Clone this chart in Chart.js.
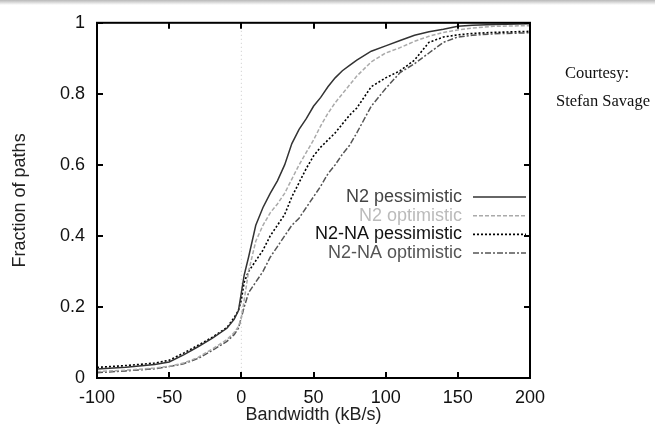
<!DOCTYPE html>
<html>
<head>
<meta charset="utf-8">
<script src="https://cdn.jsdelivr.net/npm/chart.js@4.4.1/dist/chart.umd.min.js"></script>
<style>
html, body { margin: 0; padding: 0; background: #fff; }
#wrap { position: relative; width: 655px; height: 429px; }
#topband { position: absolute; left: 0; top: 0; width: 655px; height: 5px; background: linear-gradient(#b8b8b8, #fff); }
</style>
</head>
<body>
<div id="wrap">
  <canvas id="cdfChart" width="655" height="429"></canvas>
  <div id="topband"></div>
</div>
<script>
// ===== DATA =====
const bandwidth = [-100, -80, -60, -50, -40, -30, -20, -10, -5, -2, 0, 2, 5, 10, 15, 20, 25, 30, 35, 40,
  45, 50, 55, 60, 65, 70, 75, 80, 90, 100, 110, 120, 130, 140, 150, 160, 175, 200];

const n2Pess = [0.025, 0.03, 0.038, 0.045, 0.065, 0.088, 0.112, 0.14, 0.165, 0.19, 0.24, 0.29, 0.34, 0.43, 0.48, 0.52, 0.555, 0.60, 0.66, 0.70,
  0.73, 0.765, 0.79, 0.82, 0.845, 0.865, 0.88, 0.895, 0.92, 0.935, 0.95, 0.965, 0.975, 0.982, 0.99, 0.993, 0.995, 0.997];

const n2Opt = [0.018, 0.022, 0.028, 0.033, 0.042, 0.058, 0.082, 0.108, 0.128, 0.145, 0.17, 0.22, 0.30, 0.385, 0.43, 0.465, 0.49, 0.52, 0.56, 0.60,
  0.635, 0.67, 0.71, 0.745, 0.775, 0.80, 0.825, 0.85, 0.89, 0.915, 0.93, 0.948, 0.962, 0.973, 0.98, 0.985, 0.99, 0.992];

const n2naPess = [0.03, 0.035, 0.042, 0.05, 0.07, 0.092, 0.115, 0.142, 0.17, 0.19, 0.22, 0.27, 0.30, 0.33, 0.36, 0.40, 0.43, 0.46, 0.51, 0.55,
  0.59, 0.625, 0.65, 0.67, 0.69, 0.715, 0.74, 0.76, 0.82, 0.845, 0.865, 0.895, 0.945, 0.96, 0.966, 0.97, 0.973, 0.976];

const n2naOpt = [0.015, 0.02, 0.026, 0.032, 0.04, 0.055, 0.078, 0.103, 0.122, 0.14, 0.17, 0.20, 0.24, 0.27, 0.30, 0.34, 0.37, 0.40, 0.43, 0.45,
  0.48, 0.51, 0.54, 0.575, 0.60, 0.63, 0.655, 0.69, 0.765, 0.815, 0.86, 0.885, 0.915, 0.945, 0.96, 0.965, 0.969, 0.972];

const seriesNames = ['N2 pessimistic', 'N2 optimistic', 'N2-NA pessimistic', 'N2-NA optimistic'];
const xTicks = [-100, -50, 0, 50, 100, 150, 200];
const yTicks = [0, 0.2, 0.4, 0.6, 0.8, 1];
const courtesy = ['Courtesy:', 'Stefan Savage'];

const FONT = "'Liberation Sans', Arial, sans-serif";

function toPoints(ys) {
  return bandwidth.map((x, i) => ({ x: x, y: ys[i] }));
}

// legend text colours, same order as series
const legendText = ['#444', '#bbb', '#111', '#555'];

// ===== PLUGIN: frame, inward ticks, zero line, legend, note =====
const gnuFrame = {
  id: 'gnuFrame',
  beforeDatasetsDraw(chart) {
    const { ctx, chartArea: a, scales: { x } } = chart;
    const x0 = x.getPixelForValue(0);
    ctx.save();
    ctx.strokeStyle = '#c8c8c8';
    ctx.lineWidth = 1;
    ctx.setLineDash([1, 3]);
    ctx.beginPath();
    ctx.moveTo(x0, a.top);
    ctx.lineTo(x0, a.bottom);
    ctx.stroke();
    ctx.restore();
  },
  afterDatasetsDraw(chart) {
    const { ctx, chartArea: a, scales: { x, y } } = chart;
    ctx.save();
    ctx.strokeStyle = '#000';
    ctx.lineWidth = 2;
    ctx.strokeRect(a.left, a.top, a.right - a.left, a.bottom - a.top);

    ctx.beginPath();
    xTicks.forEach(v => {
      const px = Math.round(x.getPixelForValue(v));
      ctx.moveTo(px, a.bottom); ctx.lineTo(px, a.bottom - 6);
      ctx.moveTo(px, a.top); ctx.lineTo(px, a.top + 6);
    });
    yTicks.forEach(v => {
      const py = Math.round(y.getPixelForValue(v));
      ctx.moveTo(a.left, py); ctx.lineTo(a.left + 6, py);
      ctx.moveTo(a.right, py); ctx.lineTo(a.right - 6, py);
    });
    ctx.stroke();

    // legend inside plot
    ctx.font = '18px ' + FONT;
    ctx.textAlign = 'right';
    ctx.textBaseline = 'middle';
    chart.data.datasets.forEach((ds, i) => {
      const ly = 197 + i * 18.7;
      ctx.fillStyle = legendText[i];
      ctx.fillText(ds.label, 462, ly);
      ctx.strokeStyle = ds.borderColor;
      ctx.lineWidth = ds.borderWidth;
      ctx.setLineDash(ds.borderDash || []);
      ctx.beginPath();
      ctx.moveTo(473, ly);
      ctx.lineTo(526, ly);
      ctx.stroke();
    });
    ctx.setLineDash([]);

    // courtesy note
    ctx.fillStyle = '#111';
    ctx.font = "16.5px 'Liberation Serif', 'DejaVu Serif', serif";
    ctx.textAlign = 'center';
    ctx.fillText(courtesy[0], 597, 74);
    ctx.fillText(courtesy[1], 603, 102);
    ctx.restore();
  }
};

// ===== CHART =====
const ctx = document.getElementById('cdfChart');

new Chart(ctx, {
  type: 'line',
  data: {
    datasets: [
      {
        label: seriesNames[0],
        data: toPoints(n2Pess),
        borderColor: '#333',
        borderWidth: 1.5
      },
      {
        label: seriesNames[1],
        data: toPoints(n2Opt),
        borderColor: '#aaa',
        borderWidth: 1.5,
        borderDash: [4, 2]
      },
      {
        label: seriesNames[2],
        data: toPoints(n2naPess),
        borderColor: '#000',
        borderWidth: 1.6,
        borderDash: [2, 2]
      },
      {
        label: seriesNames[3],
        data: toPoints(n2naOpt),
        borderColor: '#555',
        borderWidth: 1.5,
        borderDash: [6, 2, 2, 2]
      }
    ]
  },
  options: {
    responsive: false,
    animation: false,
    elements: {
      point: { radius: 0 },
      line: { tension: 0, fill: false }
    },
    layout: {
      padding: { top: 14, right: 125, left: 0, bottom: 0 }
    },
    plugins: {
      legend: { display: false },
      tooltip: { enabled: false }
    },
    scales: {
      x: {
        type: 'linear',
        min: -100,
        max: 200,
        afterBuildTicks: s => { s.ticks = xTicks.map(v => ({ value: v })); },
        afterFit: s => { s.height = 51; },
        grid: { display: false, drawTicks: false },
        border: { display: false },
        ticks: {
          color: '#111',
          font: { size: 18, family: FONT },
          padding: 9,
          maxRotation: 0,
          callback: v => String(v)
        },
        title: {
          display: true,
          text: 'Bandwidth (kB/s)',
          color: '#222',
          font: { size: 18, family: FONT },
          padding: { top: 0, bottom: 3 }
        }
      },
      y: {
        min: 0,
        max: 1,
        afterBuildTicks: s => { s.ticks = yTicks.map(v => ({ value: v })); },
        afterFit: s => { s.width = 97; },
        grid: { display: false, drawTicks: false },
        border: { display: false },
        ticks: {
          color: '#111',
          font: { size: 18, family: FONT },
          padding: 12,
          callback: v => String(v)
        },
        title: {
          display: true,
          text: 'Fraction of paths',
          color: '#222',
          font: { size: 18, family: FONT },
          padding: { top: 9, bottom: 0 }
        }
      }
    }
  },
  plugins: [gnuFrame]
});
</script>
</body>
</html>
